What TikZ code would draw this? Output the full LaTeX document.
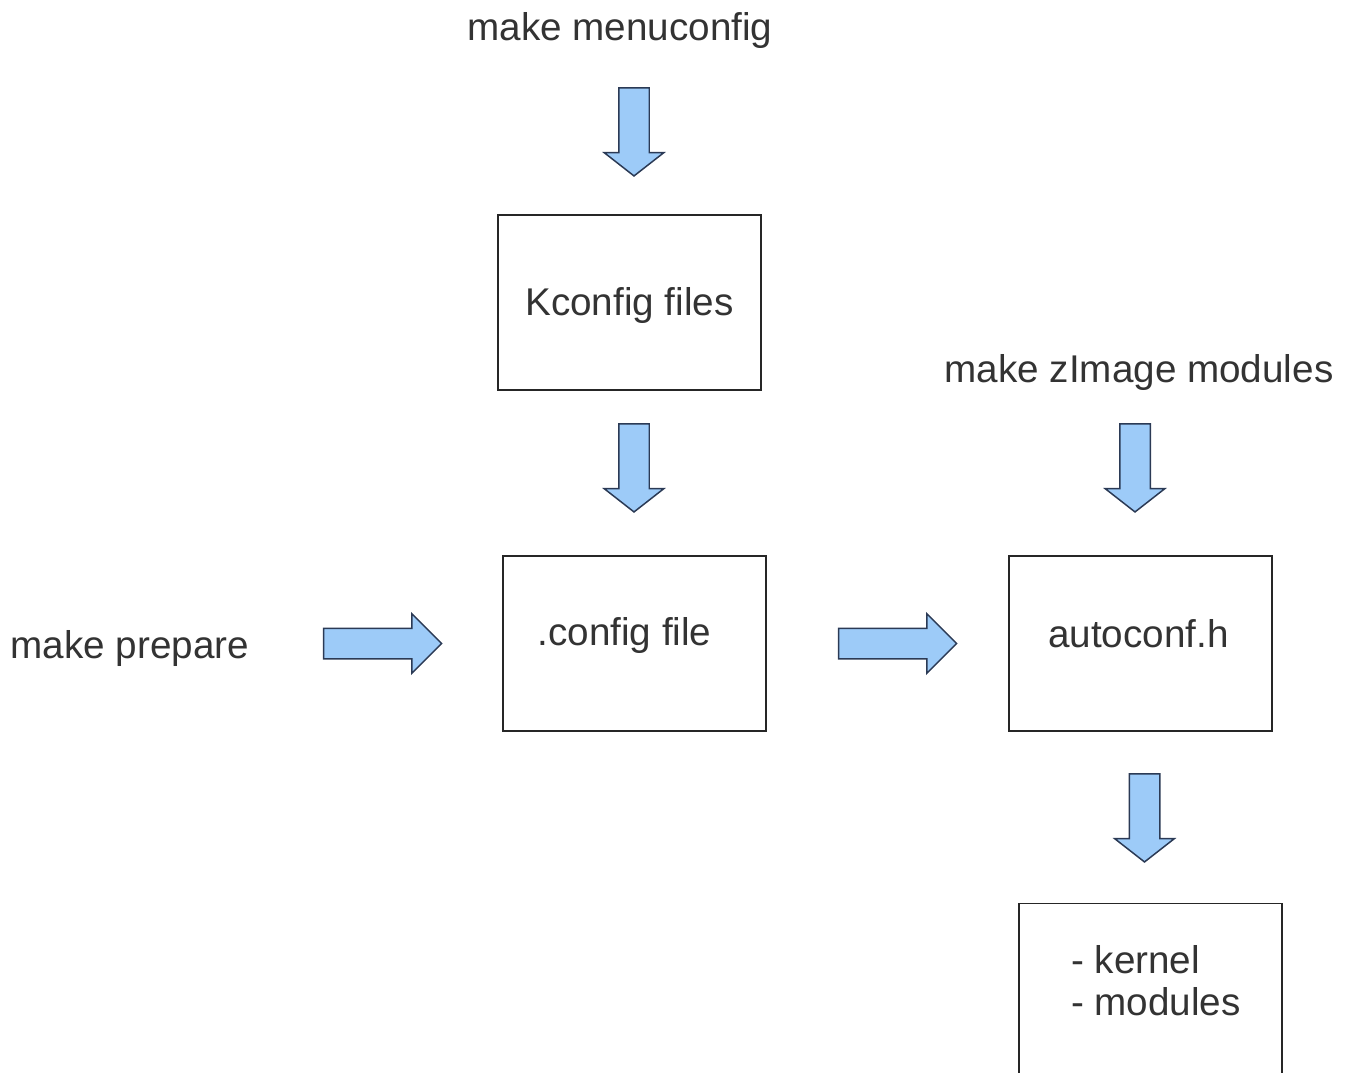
\documentclass[tikz,border=0pt]{standalone}
\usepackage{fontspec}
\setmainfont{Liberation Sans}
\usepackage{xcolor}
\usetikzlibrary{shapes.arrows, positioning}
\definecolor{arrowfill}{HTML}{9DCBF8}
\definecolor{arrowdraw}{HTML}{2B3A55}
\definecolor{txt}{HTML}{333333}

\begin{document}
\begin{tikzpicture}[x=0.02cm,y=-0.02cm,
    every node/.style={text=txt, font=\fontsize{22}{24}\selectfont},
    stage/.style={draw=black!85, line width=0.85pt, minimum width=5.26cm, minimum height=3.5cm},
    cmd/.style={inner sep=0pt},
    blockarrow/.style={single arrow, draw=arrowdraw, fill=arrowfill, line width=0.85pt,
        inner sep=0.29cm, single arrow head extend=0.29cm, single arrow head indent=0pt,
        minimum width=1.16cm},
    downarrow/.style={blockarrow, shape border rotate=270, minimum height=1.76cm, single arrow tip angle=104},
    eastarrow/.style={blockarrow, minimum height=2.36cm, single arrow tip angle=90}]

  \clip (0,0) rectangle (1352,1072);

  \node[cmd]   (menucfg) at (620,31)   {make menuconfig};
  \node[stage, label={[yshift=-0.06cm]center:Kconfig files}] (kconfig) at (629.5,302.5) {};
  \node[stage, label={[xshift=-0.2cm, yshift=0.16cm]center:.config file}] (config) at (634.5,643.5) {};
  \node[cmd]   (prepare) at (130,648)  {make prepare};
  \node[cmd]   (zimage)  at (1139,372) {make zImage modules};
  \node[stage, label={[xshift=-0.04cm, yshift=0.19cm]center:autoconf.h}] (autoconf) at (1140.5,643.5) {};
  \node[stage, label={[align=left, xshift=0.11cm, yshift=0.2cm]center:- kernel\\- modules}] (output) at (1150.5,991) {};

  \node[downarrow] (a_menu)   at (634,126)    {};
  \node[downarrow] (a_kconf)  at (634,462)    {};
  \node[downarrow] (a_zimg)   at (1135,462)   {};
  \node[downarrow] (a_auto)   at (1144.5,812) {};
  \node[eastarrow] (a_prep)   at (375,643.5)  {};
  \node[eastarrow] (a_config) at (890,643.5)  {};
\end{tikzpicture}
\end{document}
